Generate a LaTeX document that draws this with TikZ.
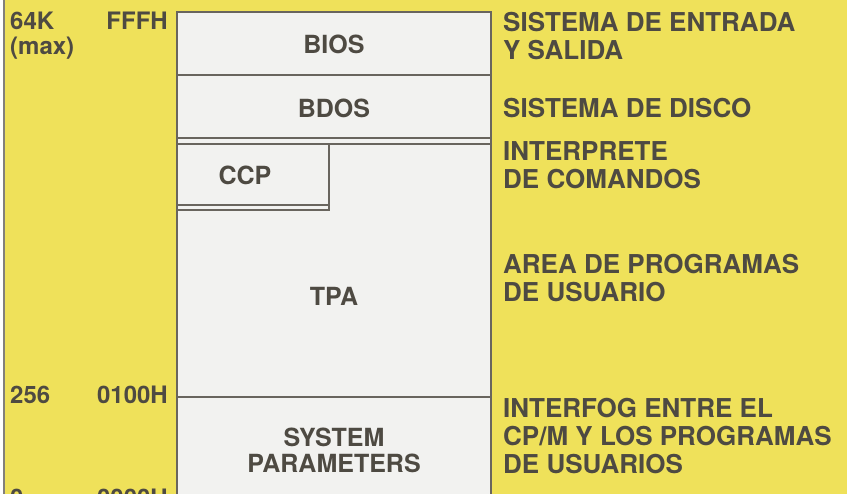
\documentclass[tikz,border=0pt]{standalone}
\usepackage{fontspec}
\setmainfont{TeX Gyre Heros}
\definecolor{cpmyellow}{HTML}{EFE15A}
\definecolor{cpmink}{HTML}{4E4A42}
\definecolor{cpmwhite}{HTML}{F2F2F0}
\begin{document}
\begin{tikzpicture}[x=1pt,y=-1pt,every node/.style={text=cpmink,inner sep=0pt,
                      font=\bfseries\fontsize{25}{26}\selectfont,align=center},
                    side/.style={anchor=base west,align=left,
                      font=\bfseries\fontsize{26}{28}\selectfont},
                    addr/.style={anchor=base west,font=\bfseries\fontsize{24}{25}\selectfont},
                    mem/.style={draw=cpmink!85,line width=1.6pt}]
    \useasboundingbox (0,0) rectangle (847,494);
    \fill[cpmyellow] (0,0) rectangle (847,494);
    \fill[white] (0,0) rectangle (3,494);
    \draw[cpmink!70,line width=1.2pt] (4,0) -- (4,494);

    \begin{scope}
    \clip (0,0) rectangle (847,494);
    \draw[mem,fill=cpmwhite] (177,12) rectangle (491,530);
    \draw[mem] (177,75) -- (491,75);
    \draw[mem] (177,138) -- (491,138);
    \draw[mem] (177,144) -- (491,144);
    \draw[mem] (329,144) -- (329,210) -- (177,210);
    \draw[mem] (177,205) -- (329,205);
    \draw[mem] (177,397) -- (491,397);

    \node (bios) at (334,44) {BIOS};
    \node (bdos) at (334,108) {BDOS};
    \node (ccp) at (245,175) {CCP};
    \node (tpa) at (334,296) {TPA};
    \node (syspar) at (334,450) {SYSTEM\\PARAMETERS};

    \node[addr] (top) at (10,30) {64K};
    \node[addr] (max) at (10,55) {(max)};
    \node[addr,anchor=base east] (fffh) at (168,30) {FFFH};
    \node[addr] (tpa-dec) at (10,404) {256};
    \node[addr,anchor=base east] (tpa-hex) at (168,404) {0100H};
    \node[addr] (zero-dec) at (10,507) {0};
    \node[addr,anchor=base east] (zero-hex) at (168,507) {0000H};
    \end{scope}

    % base = last line of each block
    \node[side] (bios-txt) at (503,60) {SISTEMA DE ENTRADA\\Y SALIDA};
    \node[side] (bdos-txt) at (503,118) {SISTEMA DE DISCO};
    \node[side] (ccp-txt) at (503,189) {INTERPRETE\\DE COMANDOS};
    \node[side] (tpa-txt) at (503,302) {AREA DE PROGRAMAS\\DE USUARIO};
    \node[side] (syspar-txt) at (503,474) {INTERFOG ENTRE EL\\CP/M Y LOS PROGRAMAS\\DE USUARIOS};
  \end{tikzpicture}
\end{document}
